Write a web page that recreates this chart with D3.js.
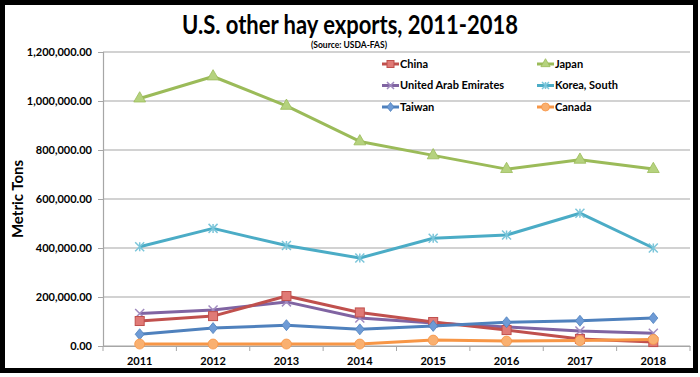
<!DOCTYPE html>
<html>
<head>
<meta charset="utf-8">
<script src="https://cdn.jsdelivr.net/npm/d3@7"></script>
<style>
    body { margin: 0; background: #fff; }
    svg { display: block; font-family: Lato, "Open Sans", sans-serif; font-weight: bold; }
</style>
</head>
<body>
<div id="chart"></div>
<script>
const years = ['2011', '2012', '2013', '2014', '2015', '2016', '2017', '2018'];
const yTicks = [0, 200000, 400000, 600000, 800000, 1000000, 1200000];

const china = [102000, 122000, 204000, 137000, 98000, 65000, 29000, 16000];
const japan = [1010000, 1100000, 980000, 835000, 778000, 722000, 760000, 722000];
const uae = [133000, 147000, 180000, 114000, 94000, 78000, 61000, 52000];
const korea = [405000, 480000, 410000, 359000, 440000, 453000, 542000, 400000];
const taiwan = [48000, 73000, 85000, 68000, 82000, 97000, 103000, 114000];
const canada = [8000, 8000, 8000, 8000, 24000, 20000, 22000, 27000];

const series = [
    { name: 'China', values: china, color: '#C0504D', fill: '#E07A76', marker: 'square' },
    { name: 'Japan', values: japan, color: '#9BBB59', fill: '#B5D27E', marker: 'triangle' },
    { name: 'United Arab Emirates', values: uae, color: '#8064A2', fill: '#A08ABF', marker: 'x' },
    { name: 'Korea, South', values: korea, color: '#4BACC6', fill: '#7CC6DA', marker: 'star' },
    { name: 'Taiwan', values: taiwan, color: '#4F81BD', fill: '#6E9BD6', marker: 'diamond' },
    { name: 'Canada', values: canada, color: '#F79646', fill: '#F9B070', marker: 'circle' }
];

const W = 700, H = 377;
const margin = { top: 52, right: 10, bottom: 31, left: 103 };
const width = 690 - margin.left;
const height = 346 - margin.top;

const svg = d3.select('#chart').append('svg')
    .attr('width', W)
    .attr('height', H);

// outer black frame
svg.append('rect')
    .attr('x', 2.5).attr('y', 2.5)
    .attr('width', 693).attr('height', 368)
    .attr('fill', 'none')
    .attr('stroke', '#000')
    .attr('stroke-width', 5);

svg.append('text')
    .attr('x', 350).attr('y', 34)
    .attr('text-anchor', 'middle')
    .attr('textLength', 336)
    .attr('lengthAdjust', 'spacingAndGlyphs')
    .style('font-size', '26px')
    .text('U.S. other hay exports, 2011-2018');

svg.append('text')
    .attr('x', 349).attr('y', 48)
    .attr('text-anchor', 'middle')
    .style('font-size', '8.5px')
    .text('(Source: USDA-FAS)');

const g = svg.append('g')
    .attr('transform', `translate(${margin.left},${margin.top})`);

const xScale = d3.scaleBand().domain(years).range([0, width]);
const yScale = d3.scaleLinear().domain([0, 1200000]).range([height, 0]);
const xPos = i => xScale(years[i]) + xScale.bandwidth() / 2;

// gridlines
g.selectAll('.grid')
    .data(yTicks)
    .enter().append('line')
    .attr('x1', 0).attr('x2', width)
    .attr('y1', d => yScale(d)).attr('y2', d => yScale(d))
    .attr('stroke', '#A6A6A6')
    .attr('stroke-width', 1.2);

// y axis
const yAxis = g.append('g')
    .call(d3.axisLeft(yScale).tickValues(yTicks).tickSize(5).tickPadding(6)
        .tickFormat(d => d3.format(',.2f')(d)));
yAxis.select('.domain').attr('stroke', '#A6A6A6').attr('stroke-width', 1.2);
yAxis.selectAll('.tick line').attr('stroke', '#A6A6A6');
yAxis.selectAll('text')
    .style('font-size', '11px')
    .style('font-weight', 'bold')
    .style('font-family', 'Lato, sans-serif')
    .attr('fill', '#000');

// x axis with ticks on band boundaries
const xAxis = g.append('g')
    .attr('transform', `translate(0,${height})`)
    .call(d3.axisBottom(xScale).tickSize(0).tickPadding(11));
xAxis.select('.domain').attr('stroke', '#A6A6A6').attr('stroke-width', 1.2);
xAxis.selectAll('text')
    .style('font-size', '11px')
    .style('font-weight', 'bold')
    .style('font-family', 'Lato, sans-serif')
    .attr('fill', '#000');
xAxis.selectAll('.bound')
    .data(d3.range(years.length + 1))
    .enter().append('line')
    .attr('x1', i => i * xScale.step()).attr('x2', i => i * xScale.step())
    .attr('y1', 0).attr('y2', 5)
    .attr('stroke', '#A6A6A6');

svg.append('text')
    .attr('transform', 'rotate(-90)')
    .attr('x', -199).attr('y', 23)
    .attr('text-anchor', 'middle')
    .style('font-size', '15px')
    .text('Metric Tons');

function drawMarker(sel, s, size) {
    const r = size / 2;
    if (s.marker === 'square') {
        sel.append('rect').attr('x', -r).attr('y', -r).attr('width', size).attr('height', size)
            .attr('fill', s.fill).attr('stroke', s.color).attr('stroke-width', 1);
    } else if (s.marker === 'triangle') {
        sel.append('path').attr('d', d3.symbol(d3.symbolTriangle, size * size * 0.75)())
            .attr('fill', s.fill).attr('stroke', s.color).attr('stroke-width', 0.8);
    } else if (s.marker === 'diamond') {
        sel.append('path').attr('d', `M0,${-r - 1}L${r},0L0,${r + 1}L${-r},0Z`)
            .attr('fill', s.fill).attr('stroke', s.color).attr('stroke-width', 0.8);
    } else if (s.marker === 'circle') {
        sel.append('circle').attr('r', r + 0.5)
            .attr('fill', s.fill).attr('stroke', s.color).attr('stroke-width', 0.8);
    } else if (s.marker === 'x') {
        sel.append('path').attr('d', `M${-r},${-r}L${r},${r}M${-r},${r}L${r},${-r}`)
            .attr('stroke', s.fill).attr('stroke-width', 1.5);
    } else if (s.marker === 'star') {
        sel.append('path').attr('d', `M${-r},${-r}L${r},${r}M${-r},${r}L${r},${-r}M0,${-r}L0,${r}`)
            .attr('stroke', s.fill).attr('stroke-width', 1.5);
    }
}

const line = d3.line()
    .x((d, i) => xPos(i))
    .y(d => yScale(d));

const drawOrder = ['Japan', 'Korea, South', 'United Arab Emirates', 'China', 'Taiwan', 'Canada'];
drawOrder.forEach(name => {
    const s = series.find(d => d.name === name);
    g.append('path')
        .datum(s.values)
        .attr('fill', 'none')
        .attr('stroke', s.color)
        .attr('stroke-width', 3)
        .attr('stroke-linejoin', 'round')
        .attr('d', line);
    s.values.forEach((v, i) => {
        const m = g.append('g').attr('transform', `translate(${xPos(i)},${yScale(v)})`);
        drawMarker(m, s, 9);
    });
});

// legend
const legend = svg.append('g');
series.forEach((s, i) => {
    const col = i % 2, row = Math.floor(i / 2);
    const row_g = legend.append('g')
        .attr('transform', `translate(${382 + col * 155},${64 + row * 21.5})`);
    row_g.append('line')
        .attr('x1', 0).attr('x2', 17)
        .attr('stroke', s.color).attr('stroke-width', 3);
    const m = row_g.append('g').attr('transform', 'translate(8.5,0)');
    drawMarker(m, s, 7);
    row_g.append('text')
        .attr('x', 18).attr('dy', '0.36em')
        .style('font-size', '11px')
        .text(s.name);
});
</script>
</body>
</html>
